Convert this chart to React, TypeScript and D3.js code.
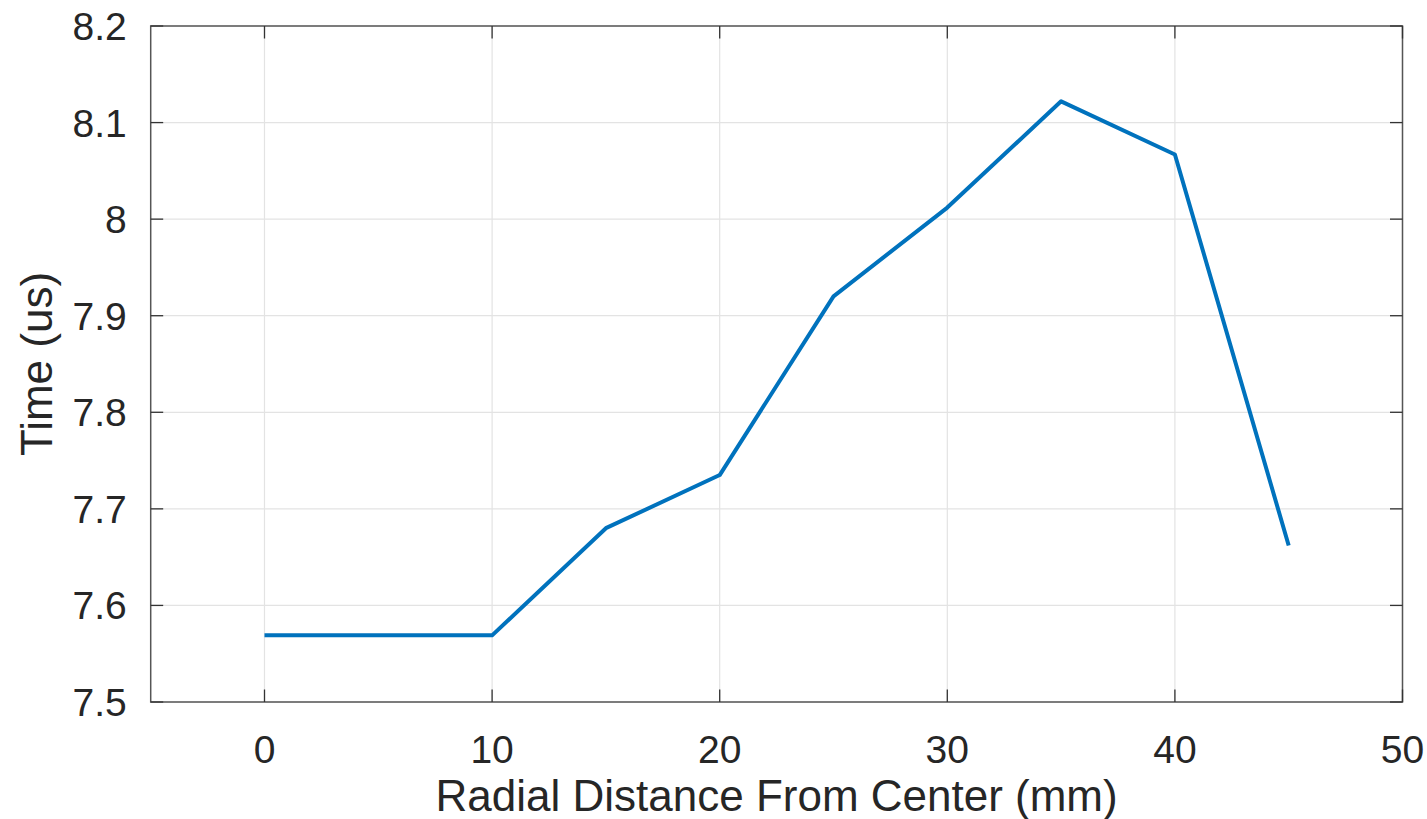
import React from 'react';
import * as d3 from 'd3';

// radial distance (mm) and measured time (us)
const distances = [0, 5, 10, 15, 20, 25, 30, 35, 40, 45];
const times = [7.569, 7.569, 7.569, 7.680, 7.735, 7.920, 8.012, 8.122, 8.067, 7.662];
const xTicks = [0, 10, 20, 30, 40, 50];
const yTicks = [7.5, 7.6, 7.7, 7.8, 7.9, 8.0, 8.1, 8.2];

const width = 1427;
const height = 819;
const margin = { top: 26, right: 24.5, bottom: 117, left: 150.7 };
const font = '"Liberation Sans", Arial, Helvetica, sans-serif';

const App = () => {
    const x = d3.scaleLinear()
        .domain([-5, 50])
        .range([margin.left, width - margin.right]);
    const y = d3.scaleLinear()
        .domain([7.5, 8.2])
        .range([height - margin.bottom, margin.top]);

    const line = d3.line<number>()
        .x((d, i) => x(distances[i]))
        .y(d => y(d));

    const x0 = margin.left;
    const x1 = width - margin.right;
    const y0 = height - margin.bottom;
    const y1 = margin.top;
    const tickLen = 12.5;

    return (
        <svg
            width={width}
            height={height}
            style={{ position: 'absolute', left: 0, top: 0, background: '#fff' }}
            fontFamily={font}
        >
            {/* grid */}
            <g stroke="#e3e3e3" strokeWidth={1.2}>
                {xTicks.map(t => (
                    <line key={'gx' + t} x1={x(t)} x2={x(t)} y1={y1} y2={y0} />
                ))}
                {yTicks.map(t => (
                    <line key={'gy' + t} x1={x0} x2={x1} y1={y(t)} y2={y(t)} />
                ))}
            </g>

            {/* data line */}
            <path
                d={line(times) || ''}
                fill="none"
                stroke="#0072BD"
                strokeWidth={4}
                strokeLinejoin="round"
            />

            {/* box */}
            <rect x={x0} y={y1} width={x1 - x0} height={y0 - y1} fill="none" stroke="#555" strokeWidth={1.5} />

            {/* ticks on all four sides */}
            <g stroke="#333" strokeWidth={1.3}>
                {xTicks.map(t => (
                    <g key={'tx' + t}>
                        <line x1={x(t)} x2={x(t)} y1={y0} y2={y0 - tickLen} />
                        <line x1={x(t)} x2={x(t)} y1={y1} y2={y1 + tickLen} />
                    </g>
                ))}
                {yTicks.map(t => (
                    <g key={'ty' + t}>
                        <line x1={x0} x2={x0 + tickLen} y1={y(t)} y2={y(t)} />
                        <line x1={x1} x2={x1 - tickLen} y1={y(t)} y2={y(t)} />
                    </g>
                ))}
            </g>

            {/* tick labels */}
            <g fill="#262626" fontSize={39}>
                {xTicks.map(t => (
                    <text key={'lx' + t} x={x(t)} y={y0 + 61} textAnchor="middle">{t}</text>
                ))}
                {yTicks.map(t => (
                    <text key={'ly' + t} x={x0 - 24} y={y(t) + 14} textAnchor="end">{d3.format('~g')(t)}</text>
                ))}
            </g>

            {/* axis labels */}
            <text
                x={(x0 + x1) / 2}
                y={811}
                textAnchor="middle"
                fontSize={44}
                fill="#262626"
            >
                Radial Distance From Center (mm)
            </text>
            <text
                transform={`translate(52,${(y0 + y1) / 2}) rotate(-90)`}
                textAnchor="middle"
                fontSize={44}
                fill="#262626"
            >
                Time (us)
            </text>
        </svg>
    );
};

export default App;
